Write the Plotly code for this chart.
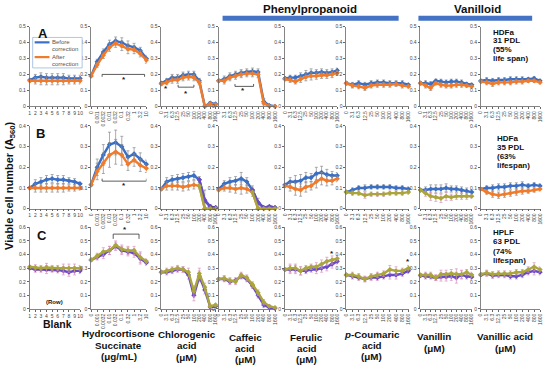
import plotly.graph_objects as go

W, H = 550, 371
FONT = "Arial, Liberation Sans, sans-serif"

# ---------------- tick labels ----------------
blank_ticks = ['1', '2', '3', '4', '5', '6', '7', '8', '9', '10']
hc_ticks = ['0', '0.001', '0.0032', '0.01', '0.032', '0.1', '0.32', '1', '3.2', '10']
conc_ticks = ['0', '3.1', '6.3', '12.5', '25', '50', '100', '200', '400', '800', '1600']

# ---------------- Row A (HDFa 31 PDL) ----------------
blank_A_before = [0.165, 0.18, 0.185, 0.18, 0.18, 0.18, 0.18, 0.175, 0.175, 0.175]
blank_A_after = [0.16, 0.16, 0.16, 0.16, 0.16, 0.16, 0.16, 0.16, 0.16, 0.16]
blank_A_err = [0.01, 0.02, 0.025, 0.025, 0.025, 0.025, 0.025, 0.02, 0.02, 0.02]
hc_A_before = [0.19, 0.28, 0.34, 0.39, 0.41, 0.40, 0.38, 0.37, 0.35, 0.30]
hc_A_after = [0.19, 0.26, 0.32, 0.37, 0.395, 0.38, 0.36, 0.355, 0.33, 0.29]
hc_A_err = [0.005, 0.015, 0.02, 0.025, 0.025, 0.03, 0.03, 0.025, 0.02, 0.02]
chl_A_before = [0.145, 0.16, 0.18, 0.18, 0.195, 0.2, 0.2, 0.16, 0.0, 0.02, 0.015]
chl_A_after = [0.14, 0.15, 0.165, 0.165, 0.18, 0.185, 0.18, 0.15, 0.0, 0.015, 0.01]
chl_A_err = [0.01, 0.015, 0.02, 0.02, 0.02, 0.02, 0.02, 0.015, 0.005, 0.01, 0.005]
caf_A_before = [0.16, 0.17, 0.19, 0.2, 0.21, 0.215, 0.22, 0.215, 0.03, 0.005, 0.0]
caf_A_after = [0.16, 0.16, 0.18, 0.19, 0.2, 0.205, 0.205, 0.2, 0.02, 0.0, 0.0]
caf_A_err = [0.01, 0.02, 0.02, 0.02, 0.02, 0.02, 0.02, 0.02, 0.02, 0.005, 0.0]
fer_A_before = [0.175, 0.18, 0.18, 0.19, 0.2, 0.21, 0.21, 0.215, 0.21, 0.215, 0.225]
fer_A_after = [0.17, 0.165, 0.155, 0.17, 0.185, 0.19, 0.19, 0.195, 0.195, 0.2, 0.21]
fer_A_err = [0.01, 0.015, 0.015, 0.02, 0.025, 0.025, 0.02, 0.02, 0.02, 0.02, 0.015]
pco_A_before = [0.145, 0.135, 0.145, 0.135, 0.145, 0.15, 0.15, 0.145, 0.145, 0.145, 0.135]
pco_A_after = [0.145, 0.13, 0.125, 0.115, 0.13, 0.135, 0.135, 0.135, 0.14, 0.13, 0.125]
pco_A_err = [0.01, 0.015, 0.015, 0.015, 0.015, 0.015, 0.015, 0.015, 0.015, 0.015, 0.01]
van_A_before = [0.145, 0.145, 0.14, 0.16, 0.155, 0.15, 0.155, 0.155, 0.15, 0.14, 0.135]
van_A_after = [0.145, 0.13, 0.115, 0.145, 0.135, 0.13, 0.13, 0.135, 0.135, 0.13, 0.125]
van_A_err = [0.01, 0.015, 0.015, 0.01, 0.015, 0.015, 0.015, 0.015, 0.015, 0.01, 0.01]
vac_A_before = [0.16, 0.165, 0.16, 0.165, 0.165, 0.17, 0.17, 0.17, 0.17, 0.175, 0.16]
vac_A_after = [0.155, 0.15, 0.14, 0.15, 0.15, 0.15, 0.155, 0.155, 0.16, 0.16, 0.15]
vac_A_err = [0.01, 0.015, 0.015, 0.015, 0.015, 0.015, 0.015, 0.015, 0.01, 0.01, 0.01]

# ---------------- Row B (HDFa 35 PDL) ----------------
blank_B_before = [0.1, 0.12, 0.13, 0.14, 0.145, 0.14, 0.14, 0.135, 0.13, 0.12]
blank_B_after = [0.1, 0.1, 0.1, 0.1, 0.1, 0.1, 0.1, 0.1, 0.1, 0.1]
blank_B_err = [0.005, 0.02, 0.02, 0.02, 0.02, 0.02, 0.02, 0.015, 0.015, 0.01]
hc_B_before = [0.115, 0.2, 0.26, 0.31, 0.32, 0.30, 0.25, 0.265, 0.24, 0.215]
hc_B_after = [0.115, 0.18, 0.22, 0.26, 0.275, 0.26, 0.215, 0.235, 0.21, 0.195]
hc_B_err = [0.005, 0.04, 0.05, 0.06, 0.06, 0.05, 0.03, 0.03, 0.03, 0.02]
chl_B_before = [0.095, 0.13, 0.14, 0.145, 0.15, 0.155, 0.16, 0.14, 0.04, 0.01, 0.005]
chl_B_after = [0.095, 0.11, 0.11, 0.11, 0.105, 0.11, 0.115, 0.11, 0.0, 0.0, 0.0]
chl_B_err = [0.005, 0.02, 0.02, 0.02, 0.02, 0.02, 0.02, 0.015, 0.05, 0.01, 0.005]
caf_B_before = [0.095, 0.12, 0.13, 0.135, 0.145, 0.13, 0.09, 0.03, 0.005, 0.01, 0.005]
caf_B_after = [0.09, 0.1, 0.1, 0.095, 0.1, 0.095, 0.08, 0.0, 0.0, 0.0, 0.0]
caf_B_err = [0.005, 0.015, 0.02, 0.02, 0.03, 0.02, 0.02, 0.02, 0.005, 0.005, 0.005]
fer_B_before = [0.115, 0.13, 0.13, 0.135, 0.15, 0.15, 0.17, 0.175, 0.165, 0.16, 0.16]
fer_B_after = [0.11, 0.105, 0.095, 0.09, 0.105, 0.11, 0.13, 0.145, 0.135, 0.135, 0.145]
fer_B_err = [0.005, 0.02, 0.03, 0.03, 0.025, 0.02, 0.03, 0.03, 0.025, 0.02, 0.015]
pco_B_before = [0.08, 0.09, 0.1, 0.1, 0.105, 0.105, 0.105, 0.105, 0.1, 0.1, 0.095]
pco_B_after = [0.08, 0.075, 0.075, 0.065, 0.07, 0.07, 0.07, 0.075, 0.075, 0.075, 0.08]
pco_B_err = [0.005, 0.01, 0.01, 0.015, 0.01, 0.01, 0.01, 0.01, 0.01, 0.01, 0.01]
van_B_before = [0.09, 0.09, 0.095, 0.095, 0.095, 0.1, 0.095, 0.095, 0.09, 0.085, 0.08]
van_B_after = [0.09, 0.075, 0.06, 0.055, 0.05, 0.06, 0.055, 0.06, 0.06, 0.06, 0.06]
van_B_err = [0.005, 0.015, 0.02, 0.02, 0.02, 0.02, 0.015, 0.015, 0.015, 0.015, 0.01]
vac_B_before = [0.095, 0.1, 0.1, 0.105, 0.105, 0.11, 0.11, 0.115, 0.11, 0.115, 0.11]
vac_B_after = [0.095, 0.08, 0.07, 0.065, 0.07, 0.075, 0.08, 0.085, 0.085, 0.09, 0.095]
vac_B_err = [0.005, 0.01, 0.015, 0.015, 0.015, 0.015, 0.015, 0.015, 0.01, 0.01, 0.01]

# ---------------- Row C (HPLF 63 PDL) ----------------
blank_C_before = [0.3, 0.29, 0.29, 0.29, 0.29, 0.285, 0.28, 0.27, 0.28, 0.28]
blank_C_after = [0.31, 0.305, 0.3, 0.305, 0.3, 0.3, 0.3, 0.3, 0.3, 0.3]
blank_C_err = [0.01, 0.02, 0.02, 0.03, 0.02, 0.02, 0.03, 0.03, 0.03, 0.02]
hc_C_before = [0.36, 0.38, 0.4, 0.43, 0.46, 0.43, 0.42, 0.41, 0.37, 0.34]
hc_C_after = [0.36, 0.39, 0.42, 0.43, 0.47, 0.44, 0.43, 0.43, 0.38, 0.35]
hc_C_err = [0.01, 0.02, 0.03, 0.03, 0.03, 0.03, 0.03, 0.03, 0.04, 0.02]
chl_C_before = [0.27, 0.27, 0.28, 0.29, 0.29, 0.25, 0.1, 0.24, 0.14, 0.015, 0.02]
chl_C_after = [0.27, 0.28, 0.29, 0.3, 0.29, 0.27, 0.13, 0.26, 0.16, 0.02, 0.03]
chl_C_err = [0.01, 0.02, 0.02, 0.02, 0.02, 0.03, 0.04, 0.04, 0.03, 0.01, 0.01]
caf_C_before = [0.22, 0.22, 0.2, 0.21, 0.24, 0.22, 0.17, 0.1, 0.03, 0.01, 0.005]
caf_C_after = [0.22, 0.225, 0.21, 0.2, 0.25, 0.23, 0.18, 0.12, 0.05, 0.02, 0.01]
caf_C_err = [0.01, 0.02, 0.02, 0.02, 0.02, 0.02, 0.02, 0.02, 0.02, 0.01, 0.005]
fer_C_before = [0.29, 0.29, 0.29, 0.28, 0.28, 0.29, 0.29, 0.3, 0.31, 0.33, 0.35]
fer_C_after = [0.29, 0.3, 0.3, 0.28, 0.3, 0.31, 0.31, 0.33, 0.35, 0.36, 0.37]
fer_C_err = [0.01, 0.03, 0.03, 0.03, 0.02, 0.02, 0.03, 0.03, 0.03, 0.03, 0.02]
pco_C_before = [0.25, 0.24, 0.23, 0.22, 0.23, 0.23, 0.24, 0.25, 0.25, 0.26, 0.28]
pco_C_after = [0.25, 0.25, 0.24, 0.22, 0.24, 0.25, 0.26, 0.29, 0.28, 0.28, 0.3]
pco_C_err = [0.01, 0.02, 0.02, 0.02, 0.02, 0.02, 0.02, 0.03, 0.03, 0.02, 0.02]
van_C_before = [0.245, 0.24, 0.24, 0.23, 0.235, 0.235, 0.24, 0.23, 0.25, 0.24, 0.235]
van_C_after = [0.25, 0.25, 0.25, 0.23, 0.255, 0.255, 0.26, 0.255, 0.255, 0.27, 0.25]
van_C_err = [0.01, 0.02, 0.02, 0.02, 0.03, 0.03, 0.03, 0.04, 0.03, 0.02, 0.02]
vac_C_before = [0.25, 0.26, 0.245, 0.25, 0.25, 0.24, 0.24, 0.25, 0.27, 0.28, 0.27]
vac_C_after = [0.255, 0.265, 0.255, 0.26, 0.26, 0.26, 0.27, 0.27, 0.29, 0.31, 0.29]
vac_C_err = [0.01, 0.02, 0.02, 0.02, 0.02, 0.02, 0.02, 0.02, 0.02, 0.03, 0.02]

# ---------------- layout geometry (pixels) ----------------
cols_px = [(27, 78), (89, 145), (160, 215), (218, 275), (285, 338), (347, 410), (422, 474), (483, 543)]
rows_px = [(24, 105), (125, 209), (228, 311)]
row_max = [0.5, 0.4, 0.6]

BLUE, ORANGE = '#3a6fc4', '#f07b2c'
PURPLE, OLIVE = '#6a4bc6', '#aaa53c'
GRAY_ERR, PINK_ERR = '#8a8a8a', '#d890c0'

panels = [
    [(blank_A_before, blank_A_after, blank_A_err), (hc_A_before, hc_A_after, hc_A_err),
     (chl_A_before, chl_A_after, chl_A_err), (caf_A_before, caf_A_after, caf_A_err),
     (fer_A_before, fer_A_after, fer_A_err), (pco_A_before, pco_A_after, pco_A_err),
     (van_A_before, van_A_after, van_A_err), (vac_A_before, vac_A_after, vac_A_err)],
    [(blank_B_before, blank_B_after, blank_B_err), (hc_B_before, hc_B_after, hc_B_err),
     (chl_B_before, chl_B_after, chl_B_err), (caf_B_before, caf_B_after, caf_B_err),
     (fer_B_before, fer_B_after, fer_B_err), (pco_B_before, pco_B_after, pco_B_err),
     (van_B_before, van_B_after, van_B_err), (vac_B_before, vac_B_after, vac_B_err)],
    [(blank_C_before, blank_C_after, blank_C_err), (hc_C_before, hc_C_after, hc_C_err),
     (chl_C_before, chl_C_after, chl_C_err), (caf_C_before, caf_C_after, caf_C_err),
     (fer_C_before, fer_C_after, fer_C_err), (pco_C_before, pco_C_after, pco_C_err),
     (van_C_before, van_C_after, van_C_err), (vac_C_before, vac_C_after, vac_C_err)],
]


def series_style(r, c):
    """colour of (before, after) series and their error bars"""
    if r == 2:
        return (PURPLE, PINK_ERR), (OLIVE, PINK_ERR)
    if r == 1 and c in (5, 6):
        return (BLUE, GRAY_ERR), (OLIVE, PINK_ERR)
    return (BLUE, GRAY_ERR), (ORANGE, GRAY_ERR)


def px(x):
    return x / W


def py(y):
    return 1 - y / H


fig = go.Figure()
layout = {}
axmap = {}
k = 0
for r in range(3):
    for c in range(8):
        k += 1
        axmap[(r, c)] = k
        before, after, err = panels[r][c]
        ticks = blank_ticks if c == 0 else (hc_ticks if c == 1 else conc_ticks)
        n = len(before)
        xs = list(range(n))
        xa = 'x' if k == 1 else 'x%d' % k
        ya = 'y' if k == 1 else 'y%d' % k
        for vals, (col, ecol) in zip((before, after), series_style(r, c)):
            fig.add_trace(go.Scatter(
                x=xs, y=vals, xaxis=xa, yaxis=ya, mode='lines+markers',
                line=dict(color=col, width=2.4),
                marker=dict(color=col, size=4, symbol='diamond'),
                error_y=dict(type='data', array=err, color=ecol, thickness=0.7, width=1.5),
                showlegend=False, cliponaxis=False))
        # toxic-tail segments in row B drawn in the alternate palette
        if r == 1 and c in (2, 3):
            s = 7 if c == 2 else 6
            for vals, col in ((before, PURPLE), (after, OLIVE)):
                fig.add_trace(go.Scatter(
                    x=xs[s:], y=vals[s:], xaxis=xa, yaxis=ya, mode='lines+markers',
                    line=dict(color=col, width=2.4),
                    marker=dict(color=col, size=4, symbol='diamond'),
                    showlegend=False, cliponaxis=False))
        x0, x1 = cols_px[c]
        y0, y1 = rows_px[r]
        ymax = row_max[r]
        nt = int(round(ymax / 0.1))
        yt = [round(i * 0.1, 1) for i in range(nt + 1)]
        ytt = ['0'] + ['%.1f' % v for v in yt[1:]]
        layout['xaxis' if k == 1 else 'xaxis%d' % k] = dict(
            domain=[px(x0), px(x1)], anchor=ya, range=[0, n - 1],
            tickmode='array', tickvals=xs, ticktext=ticks,
            tickangle=0 if c == 0 else -90,
            tickfont=dict(size=5, color='#444', family=FONT),
            ticks='outside', ticklen=2, tickcolor='#666',
            showline=True, linecolor='#666', linewidth=0.8,
            showgrid=False, zeroline=False, fixedrange=True)
        layout['yaxis' if k == 1 else 'yaxis%d' % k] = dict(
            domain=[py(y1), py(y0)], anchor=xa, range=[0, ymax],
            tickmode='array', tickvals=yt, ticktext=ytt,
            tickfont=dict(size=5, color='#444', family=FONT),
            ticks='outside', ticklen=2, tickcolor='#666',
            showline=True, linecolor='#666', linewidth=0.8,
            showgrid=False, zeroline=False, fixedrange=True)

shapes = []
annotations = []


def axref(r, c):
    k = axmap[(r, c)]
    return ('x' if k == 1 else 'x%d' % k), ('y' if k == 1 else 'y%d' % k)


def bracket(r, c, xa, xb, y, tick):
    xr, yr = axref(r, c)
    for (a, b, cc, d) in ((xa, y, xb, y), (xa, y, xa, y + tick), (xb, y, xb, y + tick)):
        shapes.append(dict(type='line', xref=xr, yref=yr, x0=a, y0=b, x1=cc, y1=d,
                           line=dict(color='#333', width=0.8)))


def star(r, c, x, y):
    xr, yr = axref(r, c)
    annotations.append(dict(xref=xr, yref=yr, x=x, y=y, text='<b>*</b>', showarrow=False,
                            font=dict(size=8, color='#222', family=FONT)))


bracket(0, 1, 1.8, 8.7, 0.2, -0.015)
star(0, 1, 5.4, 0.17)
star(0, 2, 0.9, 0.11)
bracket(0, 2, 3.1, 6.0, 0.12, 0.015)
star(0, 2, 4.5, 0.08)
bracket(0, 3, 2.9, 6.2, 0.125, 0.015)
star(0, 3, 4.3, 0.1)
star(0, 4, 10.1, 0.165)
bracket(1, 1, 1.8, 9.0, 0.133, 0.012)
star(1, 1, 5.4, 0.11)
star(1, 4, 10.1, 0.12)
bracket(2, 1, 3.6, 7.8, 0.55, -0.035)
star(2, 1, 5.6, 0.585)
star(2, 4, 9.0, 0.405)
star(2, 5, 9.9, 0.35)


def text(x, y, s, size, bold=True, xanchor='center', color='#111', angle=0):
    annotations.append(dict(xref='paper', yref='paper', x=px(x), y=py(y),
                            text=('<b>%s</b>' % s) if bold else s, showarrow=False,
                            xanchor=xanchor, yanchor='middle', textangle=angle,
                            font=dict(size=size, color=color, family=FONT)))


def lines(x, ys, strs, size, bold=True, xanchor='center', color='#111'):
    for yy, s in zip(ys, strs):
        text(x, yy, s, size, bold=bold, xanchor=xanchor, color=color)


# headers
text(310, 6, 'Phenylpropanoid', 11.5)
text(480, 6, 'Vanilloid', 11.5)
shapes.append(dict(type='rect', xref='paper', yref='paper', x0=px(222), x1=px(400), y0=py(18), y1=py(13),
                   fillcolor='#4472c4', line=dict(width=0)))
shapes.append(dict(type='rect', xref='paper', yref='paper', x0=px(420), x1=px(535), y0=py(18), y1=py(13),
                   fillcolor='#4472c4', line=dict(width=0)))

# panel letters
text(40, 31, 'A', 13)
text(38, 133, 'B', 13)
text(39, 236, 'C', 13)

# legend box
shapes.append(dict(type='rect', xref='paper', yref='paper', x0=px(30), x1=px(80), y0=py(66), y1=py(35),
                   fillcolor='white', line=dict(color='#9ab8e0', width=0.8)))
shapes.append(dict(type='line', xref='paper', yref='paper', x0=px(32), x1=px(47), y0=py(40), y1=py(40),
                   line=dict(color=BLUE, width=2.2)))
shapes.append(dict(type='line', xref='paper', yref='paper', x0=px(32), x1=px(47), y0=py(55), y1=py(55),
                   line=dict(color=ORANGE, width=2.2)))
lines(48, [40, 47], ['Before', 'correction'], 6, bold=False, xanchor='left', color='#555')
lines(48, [55, 62], ['After', 'correction'], 6, bold=False, xanchor='left', color='#555')

# y title
text(7, 185, 'Viable cell number (A<sub>560</sub>)', 11, angle=-90)

# bottom labels
text(55, 326, 'Blank', 10.5)
text(52, 304, '(Row)', 6)
lines(117, [336, 348, 359], ['Hydrocortisone', 'Succinate', '(μg/mL)'], 9.8)
lines(186, [337, 348, 360], ['Chlorogenic', 'acid', '(μM)'], 9.8)
lines(245, [340, 351, 362], ['Caffeic', 'acid', '(μM)'], 9.8)
lines(307, [340, 351, 362], ['Ferulic', 'acid', '(μM)'], 9.8)
lines(373, [337, 348, 359], ['<i>p</i>-Coumaric', 'acid', '(μM)'], 9.8)
lines(436, [339, 351], ['Vanillin', '(μM)'], 9.8)
lines(508, [339, 351], ['Vanillic acid', '(μM)'], 9.8)

# cell line notes
lines(493, [30, 38.5, 47, 56], ['HDFa', '31 PDL', '(55%', 'life span)'], 8, xanchor='left')
lines(497, [138, 147, 156, 165], ['HDFa', '35 PDL', '(63%', 'lifespan)'], 8, xanchor='left')
lines(493, [233, 242, 253, 262], ['HPLF', '63 PDL', '(74%', 'lifespan)'], 8, xanchor='left')

fig.update_layout(**layout)
fig.update_layout(width=W, height=H, margin=dict(l=0, r=0, t=0, b=0),
                  paper_bgcolor='white', plot_bgcolor='white',
                  shapes=shapes, annotations=annotations,
                  font=dict(family=FONT))
fig.write_html("out.html", config={'displayModeBar': False, 'staticPlot': True},
               post_script="document.body.style.margin='0px';")
